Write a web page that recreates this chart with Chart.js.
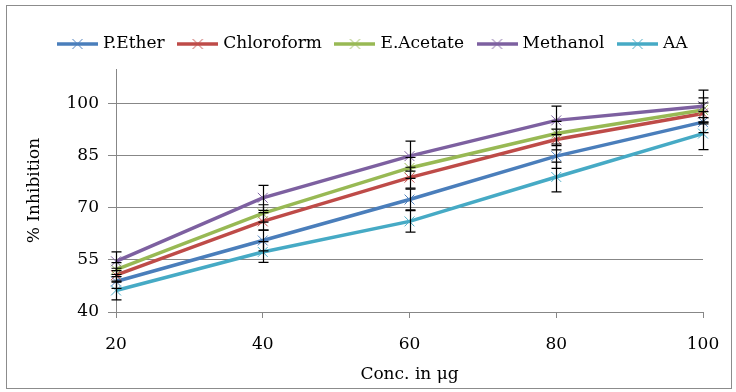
<!DOCTYPE html>
<html>
<head>
<meta charset="utf-8">
<script src="https://cdn.jsdelivr.net/npm/chart.js@4"></script>
<style>
  html, body { margin: 0; padding: 0; background: #fff; }
  #wrap { width: 736px; height: 392px; }
</style>
</head>
<body>
<div id="wrap"><canvas id="myChart" width="736" height="392"></canvas></div>
<script>
let concLabels = ['20', '40', '60', '80', '100']
let seriesNames = ['P.Ether', 'Chloroform', 'E.Acetate', 'Methanol', 'AA']

let pEther = [48.8, 60.6, 72.4, 84.9, 94.7]
let chloroform = [50.6, 66.1, 78.7, 89.7, 97.2]
let eAcetate = [52.2, 68.4, 81.5, 91.4, 98.2]
let methanol = [54.6, 72.9, 84.9, 95.2, 99.3]
let aa = [46.2, 57.3, 66.1, 78.9, 91.4]

// error bar half-widths (+/-)
let pEtherErr = [2, 3, 3, 3.5, 3]
let chloroformErr = [2, 2.5, 3, 3, 3]
let eAcetateErr = [2, 2.5, 3, 3.5, 3.5]
let methanolErr = [2.7, 3.6, 4.3, 4.1, 4.6]
let aaErr = [2.7, 3, 3.1, 4.3, 4.6]

let yTicks = [40, 55, 70, 85, 100]

let lineColors = ['#4A7EBB', '#BE4B48', '#98B954', '#7D60A0', '#46AAC5']
let markColors = ['#4F81BD', '#C0504D', '#9BBB59', '#8064A2', '#4BACC6']
let values = [pEther, chloroform, eAcetate, methanol, aa]
let errors = [pEtherErr, chloroformErr, eAcetateErr, methanolErr, aaErr]

const FONT = "'DejaVu Serif', serif"
const GRID = '#878787'

// little line + cross picture for the legend
function legendIcon(line, mark) {
    let c = document.createElement('canvas')
    c.width = 41
    c.height = 14
    let g = c.getContext('2d')
    g.strokeStyle = line
    g.lineWidth = 3.5
    g.beginPath()
    g.moveTo(0, 7)
    g.lineTo(41, 7)
    g.stroke()
    g.strokeStyle = mark
    g.lineWidth = 1
    g.beginPath()
    g.moveTo(15.5, 2)
    g.lineTo(25.5, 12)
    g.moveTo(25.5, 2)
    g.lineTo(15.5, 12)
    g.stroke()
    return c
}

let datasets = seriesNames.map((name, i) => ({
    label: name,
    data: values[i],
    errors: errors[i],
    borderColor: lineColors[i],
    backgroundColor: lineColors[i],
    borderWidth: 3.5,
    tension: 0,
    pointStyle: 'crossRot',
    pointRadius: 7,
    pointHoverRadius: 7,
    pointBorderWidth: 1,
    pointBorderColor: markColors[i],
    order: seriesNames.length - i,
}))

let frame = {
    id: 'frame',
    beforeInit(chart) {
        let lg = chart.legend
        let fit = lg.fit
        lg.fit = function () {
            fit.call(this)
            this.height = 49.5
        }
    },
    beforeDraw(chart) {
        let ctx = chart.ctx
        ctx.save()
        ctx.strokeStyle = '#8c8c8c'
        ctx.lineWidth = 1
        ctx.strokeRect(6.5, 5.5, 725, 383)
        ctx.restore()
    },
}

let errorBars = {
    id: 'errorBars',
    afterDatasetsDraw(chart) {
        let ctx = chart.ctx
        let xs = chart.scales.x
        let ys = chart.scales.y
        ctx.save()
        ctx.strokeStyle = '#000'
        ctx.lineWidth = 1.2
        chart.data.datasets.forEach((ds) => {
            ds.data.forEach((v, i) => {
                let x = Math.round(xs.getPixelForValue(i)) + 0.5
                let top = ys.getPixelForValue(v + ds.errors[i])
                let bot = ys.getPixelForValue(v - ds.errors[i])
                ctx.beginPath()
                ctx.moveTo(x, top)
                ctx.lineTo(x, bot)
                ctx.moveTo(x - 5, top)
                ctx.lineTo(x + 5, top)
                ctx.moveTo(x - 5, bot)
                ctx.lineTo(x + 5, bot)
                ctx.stroke()
            })
        })
        ctx.restore()
    },
}

let ctx = document.getElementById('myChart').getContext('2d')
let myChart = new Chart(ctx, {
    type: 'line',
    data: {
        labels: concLabels,
        datasets: datasets,
    },
    options: {
        responsive: false,
        animation: false,
        layout: {
            padding: { left: 14, right: 2, top: 19.5, bottom: 4 },
        },
        plugins: {
            legend: {
                position: 'top',
                labels: {
                    usePointStyle: true,
                    pointStyleWidth: 34,
                    padding: 16,
                    color: '#000',
                    font: { family: FONT, size: 17 },
                    sort: (a, b) => a.datasetIndex - b.datasetIndex,
                    generateLabels: (chart) => {
                        let items = Chart.defaults.plugins.legend.labels.generateLabels(chart)
                        items.forEach((it) => {
                            let k = it.datasetIndex
                            it.pointStyle = legendIcon(lineColors[k], markColors[k])
                        })
                        return items
                    },
                },
            },
            tooltip: { enabled: false },
        },
        scales: {
            x: {
                type: 'category',
                grid: {
                    display: true,
                    drawOnChartArea: false,
                    drawTicks: true,
                    tickLength: 6,
                    color: GRID,
                },
                border: { display: true, color: GRID },
                ticks: {
                    color: '#000',
                    padding: 16,
                    maxRotation: 0,
                    font: { family: FONT, size: 17 },
                },
                title: {
                    display: true,
                    text: 'Conc. in \u03bcg',
                    color: '#000',
                    font: { family: FONT, size: 17 },
                    padding: { top: 0, bottom: 3 },
                },
                afterFit: (s) => { s.height = 76 },
            },
            y: {
                min: 40,
                max: 110,
                grid: {
                    color: GRID,
                    tickLength: 8,
                },
                border: { display: true, color: GRID },
                ticks: {
                    stepSize: 15,
                    color: '#000',
                    padding: 9,
                    font: { family: FONT, size: 17 },
                },
                afterBuildTicks: (s) => {
                    s.ticks = yTicks.map((v) => ({ value: v }))
                },
                title: {
                    display: true,
                    text: '% Inhibition',
                    color: '#000',
                    font: { family: FONT, size: 17 },
                    padding: { top: 10, bottom: 0 },
                },
                afterFit: (s) => { s.width = 102 },
            },
            y2: {
                position: 'right',
                display: true,
                min: 0,
                max: 1,
                grid: { display: false },
                border: { display: false },
                ticks: { display: false },
                afterFit: (s) => { s.width = 31 },
            },
        },
    },
    plugins: [frame, errorBars],
})
</script>
</body>
</html>
